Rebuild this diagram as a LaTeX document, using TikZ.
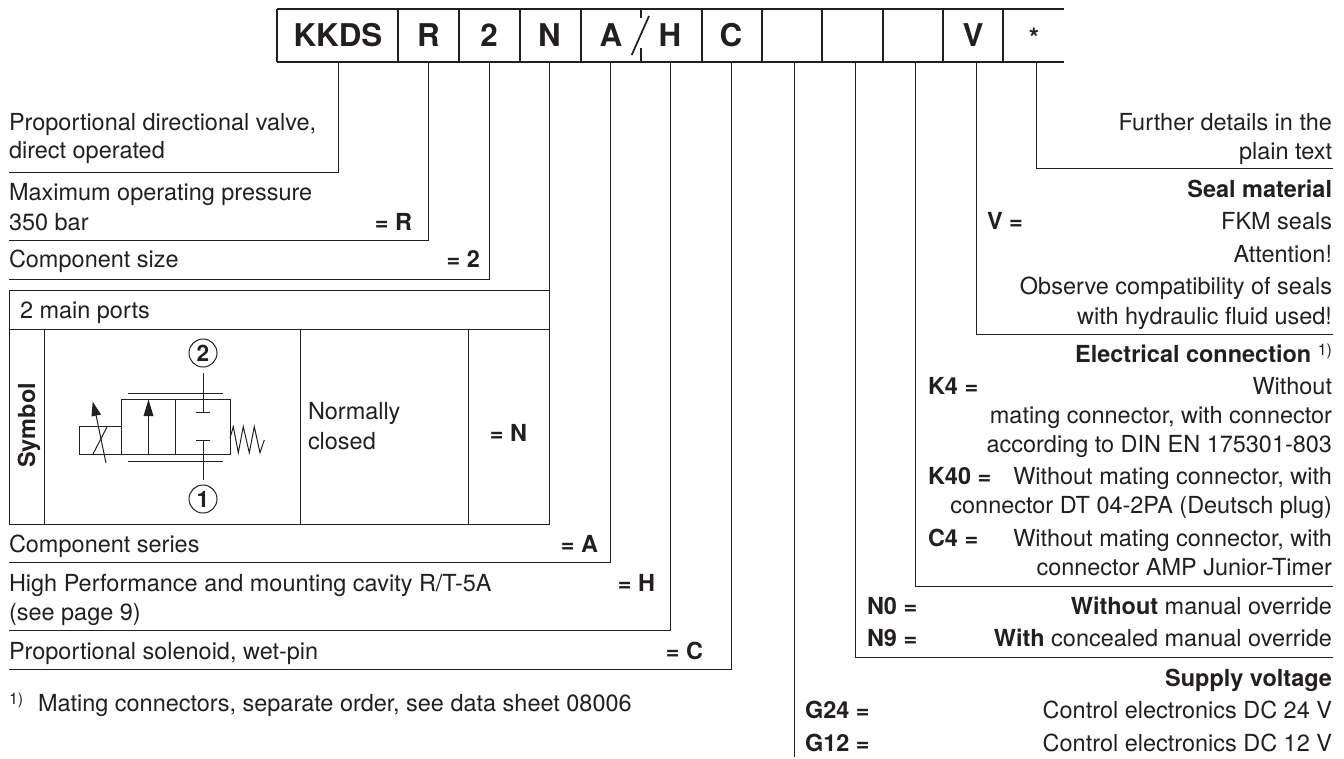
\documentclass[tikz,border=0pt]{standalone}
\usepackage{fontspec}
\setmainfont{TeX Gyre Heros}
\definecolor{ink}{HTML}{231F20}
\newcommand{\noteone}{{\fontsize{12}{14}\selectfont\mdseries\raisebox{0.42em}{1)}}}
\tikzset{
  txt/.style={inner sep=0pt, outer sep=0pt, text=ink, font=\fontsize{17.6}{21}\selectfont},
  lt/.style={txt, anchor=base west},
  rt/.style={txt, anchor=base east},
  blt/.style={lt, font=\fontsize{17.6}{21}\selectfont\bfseries},
  brt/.style={rt, font=\fontsize{17.6}{21}\selectfont\bfseries},
  cell/.style={inner sep=0pt, outer sep=0pt, text=ink, anchor=base, font=\fontsize{23.5}{28}\selectfont\bfseries},
  boxln/.style={draw=ink, line width=1.3pt},
  topln/.style={draw=ink, line width=1.6pt},
  lead/.style={draw=ink, line width=0.75pt},
  sym/.style={draw=ink, line width=0.75pt},
  port/.style={circle, draw=ink, line width=0.75pt, minimum size=21pt, inner sep=0pt, text=ink, font=\fontsize{17}{20}\selectfont\bfseries}
}
\begin{document}
\begin{tikzpicture}[x=0.75pt,y=-0.75pt]
\useasboundingbox (0,0) rectangle (1344,758);
% header frame
\draw[topln] (277,9) -- (1064,9);
\draw[topln] (277,62) -- (1064,62);
\foreach \x in {277,398,459,520,581,702,762,822,883,943,1003}
  \draw[boxln] (\x,9) -- (\x,62);
\draw[boxln] (641,9) -- (641,18);
\draw[boxln] (641,48) -- (641,62);
\draw[boxln] (631.7,55) -- (649,16);
% header letters
\node[cell] (cKKDS) at (338,46) {KKDS};
\node[cell] (cR) at (428.5,46) {R};
\node[cell] (c2) at (489,46) {2};
\node[cell] (cN) at (549.5,46) {N};
\node[cell] (cA) at (611,46) {A};
\node[cell] (cH) at (670,46) {H};
\node[cell] (cC) at (731,46) {C};
\node[cell] (cV) at (973,46) {V};
\node[cell, anchor=center, font=\fontsize{20}{24}\selectfont\bfseries] (cS) at (1034,38) {*};
% leader anchors
\coordinate (a1) at (338,63);  \coordinate (e1) at (9,172);
\coordinate (a2) at (428,63);  \coordinate (e2) at (9,240);
\coordinate (a3) at (489,63);  \coordinate (e3) at (9,279);
\coordinate (a4) at (549,63);  \coordinate (e4) at (549,290);
\coordinate (a5) at (610,63);  \coordinate (e5) at (9,562.5);
\coordinate (a6) at (670,63);  \coordinate (e6) at (9,630);
\coordinate (a7) at (731,63);  \coordinate (e7) at (9,669);
\coordinate (a8) at (794,63);  \coordinate (e8) at (794,757);
\coordinate (a9) at (855,63);  \coordinate (e9) at (1333,657);
\coordinate (a10) at (915,63); \coordinate (e10) at (1333,586);
\coordinate (a11) at (976,63); \coordinate (e11) at (1333,334.5);
\coordinate (a12) at (1036,63);\coordinate (e12) at (1333,168.5);
\draw[lead] (a1) |- (e1);
\draw[lead] (a2) |- (e2);
\draw[lead] (a3) |- (e3);
\draw[lead] (a4) -- (e4);
\draw[lead] (a5) |- (e5);
\draw[lead] (a6) |- (e6);
\draw[lead] (a7) |- (e7);
\draw[lead] (a8) -- (e8);
\draw[lead] (a9) |- (e9);
\draw[lead] (a10) |- (e10);
\draw[lead] (a11) |- (e11);
\draw[lead] (a12) |- (e12);
% table
\draw[lead] (9,290) rectangle (549,524);
\draw[lead] (9,329) -- (549,329);
\foreach \x in {44,300,468} \draw[lead] (\x,329) -- (\x,524);
% left texts
\node[lt] (t1) at (9,130) {Proportional directional valve,};
\node[lt] (t2) at (9,158.5) {direct operated};
\node[lt] (t3) at (9,200.5) {Maximum operating pressure};
\node[lt] (t4) at (9,230) {350 bar};
\node[brt] (t5) at (412,230) {= R};
\node[lt] (t6) at (9,267.5) {Component size};
\node[brt] (t7) at (480,267.5) {= 2};
\node[lt] (t8) at (20,318) {2 main ports};
\node[txt, rotate=90, anchor=base, font=\fontsize{17.6}{21}\selectfont\bfseries] (t9) at (35,425.5) {Symbol};
\node[lt] (t10) at (308,419) {Normally};
\node[lt] (t11) at (308,449) {closed};
\node[brt] (t12) at (527,441.5) {= N};
\node[lt] (t13) at (9,552) {Component series};
\node[brt] (t14) at (598,552) {= A};
\node[lt] (t15) at (9,591) {High Performance and mounting cavity R/T-5A};
\node[brt] (t16) at (655,591) {= H};
\node[lt] (t17) at (9,620) {(see page 9)};
\node[lt] (t18) at (9,659.5) {Proportional solenoid, wet-pin};
\node[brt] (t19) at (703,659.5) {= C};
\node[lt] (t20a) at (9,711) {\noteone};
\node[lt] (t20) at (38,711) {Mating connectors, separate order, see data sheet 08006};
% right texts
\node[rt] (r1) at (1332,130) {Further details in the};
\node[rt] (r2) at (1332,159) {plain text};
\node[brt] (r3) at (1332,197) {Seal material};
\node[blt] (r4) at (987,229) {V =};
\node[rt] (r5) at (1332,229) {FKM seals};
\node[rt] (r6) at (1332,262) {Attention!};
\node[rt] (r7) at (1332,294) {Observe compatibility of seals};
\node[rt] (r8) at (1332,324) {with hydraulic fluid used!};
\node[brt] (r9) at (1332,362) {Electrical connection \noteone};
\node[blt] (r10) at (928,394) {K4 =};
\node[rt] (r11) at (1332,394) {Without};
\node[rt] (r12) at (1332,423) {mating connector, with connector};
\node[rt] (r13) at (1332,452) {according to DIN EN 175301-803};
\node[blt] (r14) at (928,484) {K40 =};
\node[rt] (r15) at (1332,484) {Without mating connector, with};
\node[rt] (r16) at (1332,513) {connector DT 04-2PA (Deutsch plug)};
\node[blt] (r17) at (928,546) {C4 =};
\node[rt] (r18) at (1332,546) {Without mating connector, with};
\node[rt] (r19) at (1332,575) {connector AMP Junior-Timer};
\node[blt] (r20) at (867,614) {N0 =};
\node[rt] (r21) at (1332,614) {\textbf{Without} manual override};
\node[blt] (r22) at (867,646) {N9 =};
\node[rt] (r23) at (1332,646) {\textbf{With} concealed manual override};
\node[brt] (r24) at (1332,686.5) {Supply voltage};
\node[blt] (r25) at (805,718.5) {G24 =};
\node[rt] (r26) at (1332,718.5) {Control electronics DC 24 V};
\node[blt] (r27) at (805,751) {G12 =};
\node[rt] (r28) at (1332,751) {Control electronics DC 12 V};
% valve symbol
\draw[sym] (79.5,426.7) rectangle (121,454);
\draw[sym] (121,399.5) rectangle (230,454);
\draw[sym] (175.5,399.5) -- (175.5,454);
\draw[sym] (128,393) -- (223,393);
\draw[sym] (128,461) -- (223,461);
\draw[sym] (148.5,454) -- (148.5,415);
\fill[ink] (148.5,399.5) -- (153.5,416) -- (143.5,416) -- cycle;
\draw[sym] (93,454) -- (107,427);
\draw[sym] (106,463) -- (96,415);
\fill[ink] (92.7,401.7) -- (101,414.5) -- (91.5,416.5) -- cycle;
\node[port] (p2) at (203,353) {2};
\node[port] (p1) at (203,499) {1};
\coordinate (q2) at (203,373); \coordinate (s2) at (203,412.7);
\coordinate (q1) at (203,480); \coordinate (s1) at (203,440);
\draw[sym] (q2) -- (s2);
\draw[sym] (196,412.7) -- (210,412.7);
\draw[sym] (q1) -- (s1);
\draw[sym] (196,440) -- (210,440);
\draw[sym] (230,438) -- (233.3,426.7) -- (238.3,452.7) -- (243.3,426.7) -- (249.3,452.7) -- (254.3,426.7) -- (260,452.7) -- (264.3,440);
\end{tikzpicture}
\end{document}
